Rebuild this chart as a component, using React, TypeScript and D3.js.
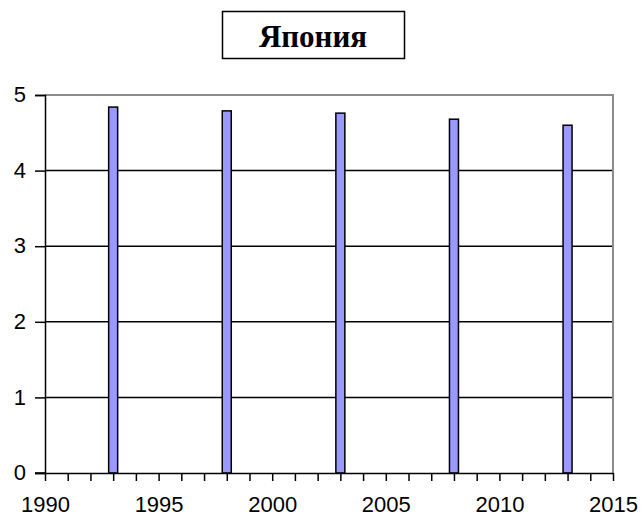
import { useEffect, useRef } from "react";
import * as d3 from "d3";

const title = "Япония";
const years = [1993, 1998, 2003, 2008, 2013];
const values = [4.84, 4.79, 4.76, 4.68, 4.6];
const xTicks = [1990, 1995, 2000, 2005, 2010, 2015];
const yTicks = [0, 1, 2, 3, 4, 5];

export default function App() {
  const ref = useRef<SVGSVGElement>(null);

  useEffect(() => {
    if (!ref.current) return;
    const svg = d3.select(ref.current);
    svg.selectAll("*").remove();

    const margin = { top: 95, right: 30, bottom: 46, left: 45 };
    const width = 643;
    const height = 519;

    const x = d3.scaleLinear().domain([1990, 2015]).range([margin.left, width - margin.right]);
    const y = d3.scaleLinear().domain([0, 5]).range([height - margin.bottom, margin.top]);

    // title box
    svg.append("rect")
      .attr("x", 222.5).attr("y", 11.5).attr("width", 182).attr("height", 47)
      .attr("fill", "white").attr("stroke", "black").attr("stroke-width", 1.5);
    svg.append("text")
      .attr("x", 313).attr("y", 47)
      .attr("text-anchor", "middle")
      .attr("font-family", "Liberation Serif, Times New Roman, serif")
      .attr("font-weight", "bold")
      .attr("font-size", 31)
      .text(title);

    // grid lines
    svg.append("g")
      .selectAll("line")
      .data(yTicks.filter(d => d > 0 && d < 5))
      .join("line")
      .attr("x1", x(1990)).attr("x2", x(2015))
      .attr("y1", d => y(d)).attr("y2", d => y(d))
      .attr("stroke", "black").attr("stroke-width", 1.5);

    // plot border top/right (gray)
    svg.append("path")
      .attr("d", `M${x(1990)},${y(5)}H${x(2015)}V${y(0)}`)
      .attr("fill", "none").attr("stroke", "#8c8c8c").attr("stroke-width", 2);

    // bars
    const bw = 9;
    svg.append("g")
      .selectAll("rect")
      .data(years.map((yr, i) => ({ yr, v: values[i] })))
      .join("rect")
      .attr("x", d => x(d.yr) - bw / 2)
      .attr("y", d => y(d.v))
      .attr("width", bw)
      .attr("height", d => y(0) - y(d.v))
      .attr("fill", "#9999ff")
      .attr("stroke", "black")
      .attr("stroke-width", 1.5);

    // y axis
    const yAxis = d3.axisLeft(y).tickValues(yTicks).tickSize(10).tickPadding(9).tickFormat(d3.format("d"));
    const gy = svg.append("g")
      .attr("transform", `translate(${x(1990)},0)`)
      .call(yAxis);
    gy.select(".domain").attr("stroke-width", 1.5);
    gy.selectAll(".tick line").attr("stroke-width", 1.5);
    gy.selectAll("text")
      .attr("font-family", "Liberation Sans, Arial, sans-serif")
      .attr("font-size", 22)
      .attr("fill", "black")
      .attr("dy", "0.3em");

    // x axis
    const xAxis = d3.axisBottom(x).tickValues(d3.range(1990, 2016)).tickSize(8).tickSizeOuter(0)
      .tickFormat(d => (xTicks.includes(+d) ? String(d) : ""));
    const gx = svg.append("g")
      .attr("transform", `translate(0,${y(0)})`)
      .call(xAxis);
    gx.select(".domain").attr("stroke-width", 1.5);
    gx.selectAll(".tick line").attr("stroke-width", 1.5);
    gx.selectAll("text")
      .attr("font-family", "Liberation Sans, Arial, sans-serif")
      .attr("font-size", 22)
      .attr("fill", "black")
      .attr("dy", "1.25em");
    // extend x axis a bit to the left like the original
    svg.append("line")
      .attr("x1", x(1990) - 10).attr("x2", x(1990))
      .attr("y1", y(0)).attr("y2", y(0))
      .attr("stroke", "black").attr("stroke-width", 1.5);
  }, []);

  return (
    <svg
      ref={ref}
      width={643}
      height={519}
      style={{ position: "absolute", left: 0, top: 0, background: "white" }}
    />
  );
}
